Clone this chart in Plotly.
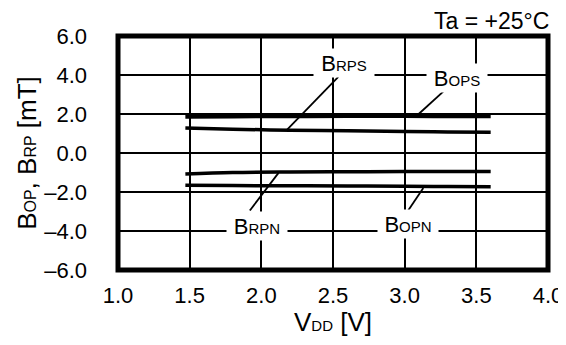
import plotly.graph_objects as go

# supply voltage [V]
vdd = [1.47, 1.8, 2.2, 2.6, 3.0, 3.3, 3.6]

# switching points [mT]
bops = [1.88, 1.90, 1.91, 1.92, 1.92, 1.91, 1.91]
brps = [1.28, 1.22, 1.17, 1.14, 1.10, 1.08, 1.06]
brpn = [-1.08, -1.00, -0.97, -0.96, -0.95, -0.95, -0.95]
bopn = [-1.65, -1.67, -1.68, -1.69, -1.71, -1.72, -1.73]

x_ticks = [1.0, 1.5, 2.0, 2.5, 3.0, 3.5, 4.0]
x_ticktext = ["1.0", "1.5", "2.0", "2.5", "3.0", "3.5", "4.0"]
y_ticks = [-6, -4, -2, 0, 2, 4, 6]
y_ticktext = ["\u20136.0", "\u20134.0", "\u20132.0", "0.0", "2.0", "4.0", "6.0"]

FONT = "Liberation Sans, Arial, sans-serif"


def sym(big, small, size=15):
    return big + "<span style='font-size:%dpx'>%s</span>" % (size, small)


fig = go.Figure()

series = [("BOPS", bops, 5), ("BRPS", brps, 3.5), ("BRPN", brpn, 3.5), ("BOPN", bopn, 3.5)]
for name, vals, w in series:
    fig.add_trace(go.Scatter(x=vdd, y=vals, mode="lines", name=name,
                             line=dict(color="black", width=w, shape="spline")))

# label boxes: (text, box centre x, box centre y, leader start, leader end)
labels = [
    (sym("B", "RPS"), 2.58, 4.61, (2.537, 3.90), (2.18, 1.20)),
    (sym("B", "OPS"), 3.364, 3.87, (3.29, 3.29), (3.09, 1.95)),
    (sym("B", "RPN"), 1.972, -3.74, (1.92, -2.95), (2.12, -1.02)),
    (sym("B", "OPN"), 3.024, -3.64, (3.015, -3.05), (3.13, -1.80)),
]
for text, lx, ly, p0, p1 in labels:
    fig.add_shape(type="line", xref="x", yref="y", x0=p0[0], y0=p0[1], x1=p1[0], y1=p1[1],
                  line=dict(color="black", width=1.8), layer="above")
    fig.add_annotation(x=lx, y=ly, xref="x", yref="y", text=text, showarrow=False,
                       bgcolor="white", width=58, height=26, xanchor="center", yanchor="middle",
                       font=dict(family=FONT, size=22, color="black"))

# frame
fig.add_shape(type="rect", xref="paper", yref="paper", x0=0, x1=1, y0=0, y1=1,
              line=dict(color="black", width=5), layer="above")

fig.add_annotation(x=1, y=1, xref="paper", yref="paper", text="Ta = +25\u00b0C",
                   showarrow=False, xanchor="right", yanchor="middle", yshift=15, xshift=3,
                   height=20, valign="middle",
                   font=dict(family=FONT, size=23, color="black"))

# the page body adds an 8 px margin, so the figure is sized to fit the window
fig.update_layout(
    width=558, height=329,
    margin=dict(l=110, r=18, t=28, b=67),
    paper_bgcolor="white", plot_bgcolor="white",
    showlegend=False,
    font=dict(family=FONT, size=22, color="black"),
)
fig.update_xaxes(range=[1, 4], tickvals=x_ticks, ticktext=x_ticktext, automargin=False,
                 showgrid=True, gridcolor="black", gridwidth=2, zeroline=False,
                 showline=False, ticks="", ticklabelstandoff=10,
                 title=dict(text=sym("V", "DD") + " [V]", standoff=10))
fig.update_yaxes(range=[-6, 6], tickvals=y_ticks, ticktext=y_ticktext, automargin=False,
                 showgrid=True, gridcolor="black", gridwidth=2, zeroline=False,
                 showline=False, ticks="", ticklabelstandoff=30,
                 title=dict(text=sym("B", "OP", 16) + ", " + sym("B", "RP", 16) + " [mT]",
                            standoff=0))

fig.write_html("out.html")
